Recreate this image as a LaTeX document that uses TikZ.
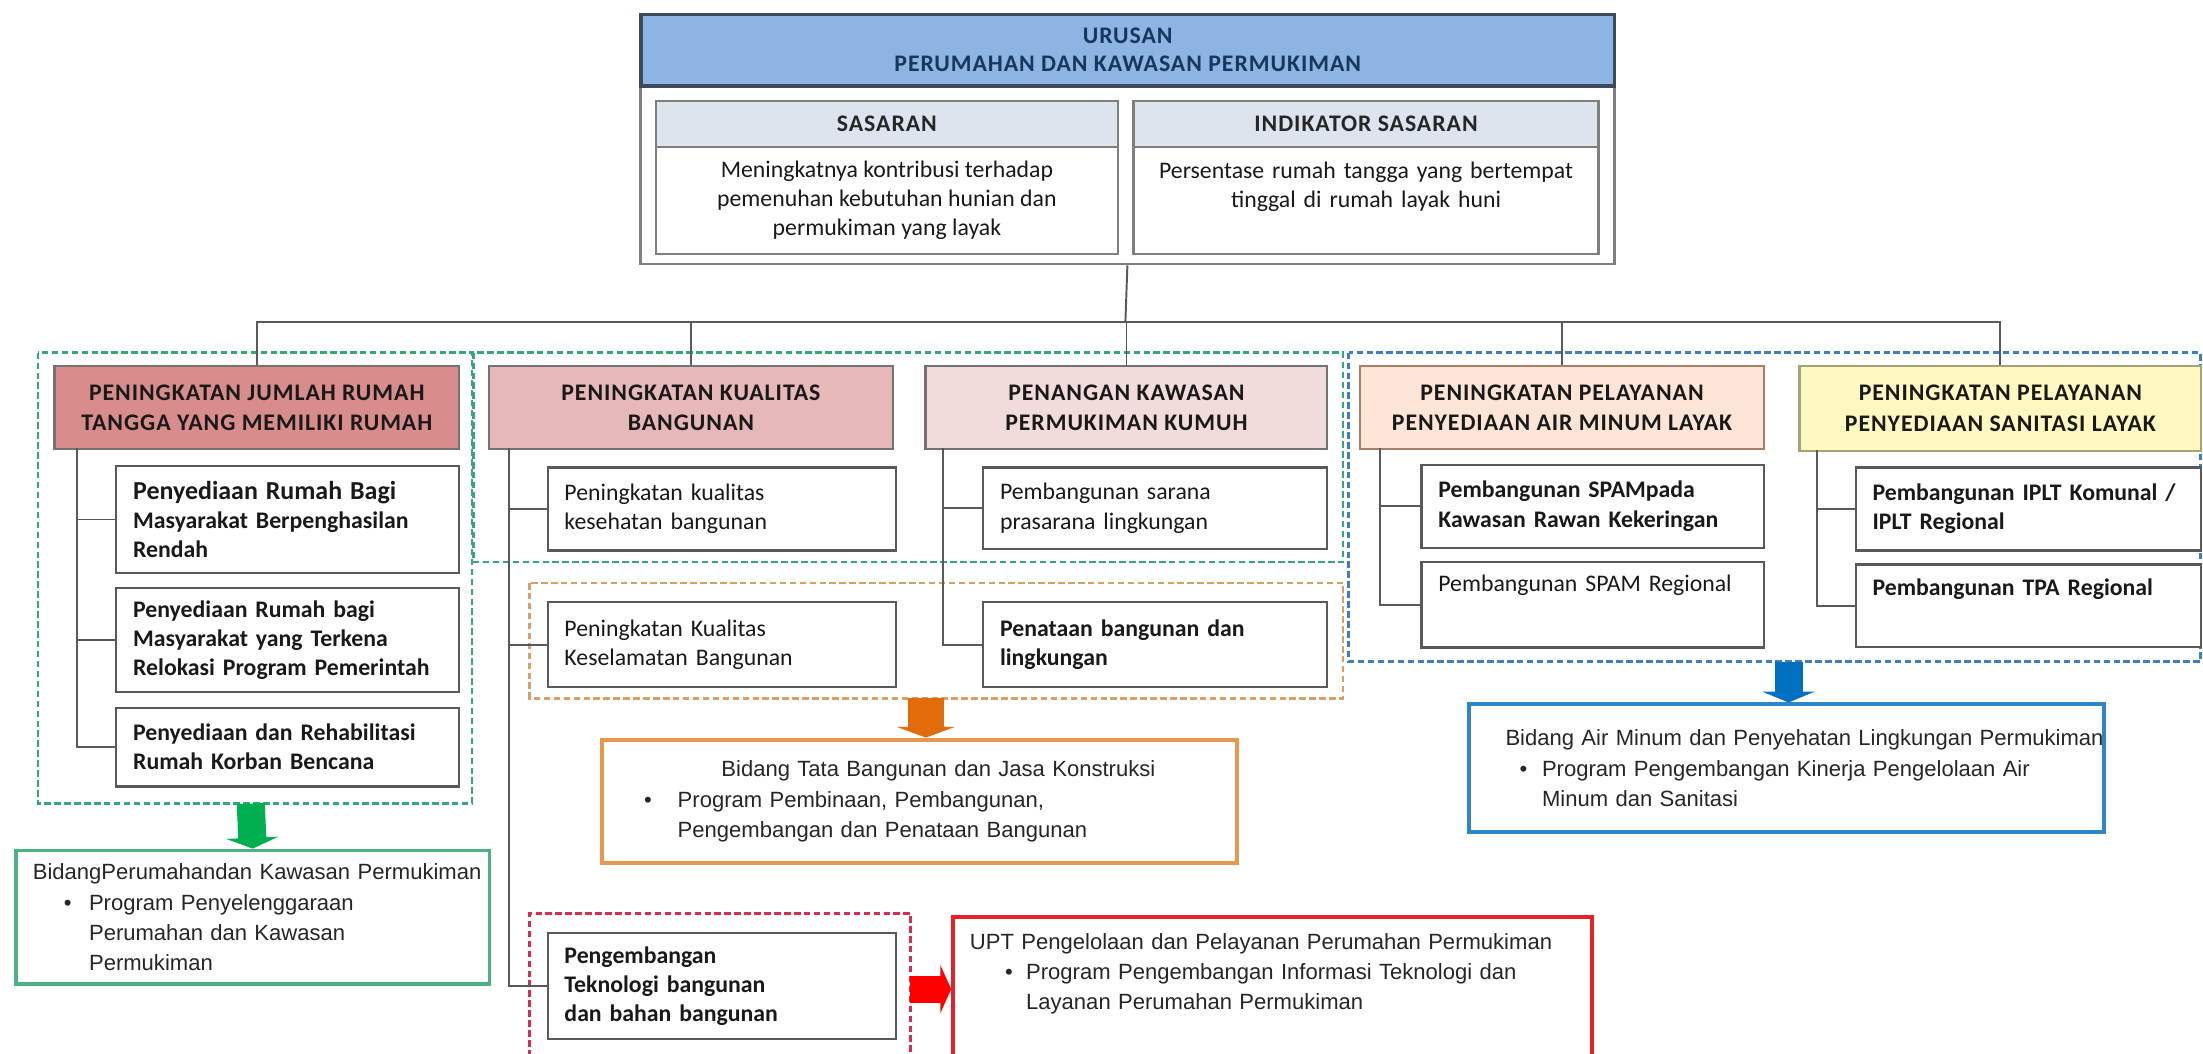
\documentclass[tikz,border=0pt]{standalone}
\usepackage{fontspec}
\setmainfont{Carlito}
\newfontfamily\capsfont[LetterSpace=4]{Carlito}
\newfontfamily\arialfont{Liberation Sans}
\usetikzlibrary{arrows.meta}

\definecolor{hdrblue}{HTML}{8DB4E2}
\definecolor{hdrline}{HTML}{3B4A5C}
\definecolor{navy}{HTML}{17375E}
\definecolor{framegray}{HTML}{7F7F7F}
\definecolor{bandgray}{HTML}{DDE4EE}
\definecolor{boxline}{HTML}{595959}
\definecolor{rosea}{HTML}{D98C8C}
\definecolor{roseb}{HTML}{E6B8B7}
\definecolor{rosec}{HTML}{F2DCDB}
\definecolor{peach}{HTML}{FCE4D6}
\definecolor{peachline}{HTML}{A8806A}
\definecolor{lemon}{HTML}{FFF8C0}
\definecolor{lemonline}{HTML}{A5A37A}
\definecolor{dashgreen}{HTML}{35A877}
\definecolor{dashblue}{HTML}{3F7FBF}
\definecolor{dashorange}{HTML}{D9A066}
\definecolor{dashred}{HTML}{D92C55}
\definecolor{bidgreen}{HTML}{4DB282}
\definecolor{bidorange}{HTML}{E8974E}
\definecolor{bidblue}{HTML}{2F86C6}
\definecolor{bidred}{HTML}{E8202A}
\definecolor{arrgreen}{HTML}{00B050}
\definecolor{arrorange}{HTML}{E36C0A}
\definecolor{arrblue}{HTML}{0070C0}
\definecolor{arrred}{HTML}{FF0000}

\newcommand\bitem[2]{\hspace*{#1}\makebox[#2][l]{\textbullet}}

\begin{document}
\begin{tikzpicture}[x=0.65pt, y=-0.65pt,
    wh/.style 2 args={minimum width=#1*0.65pt, minimum height=#2*0.65pt},
    tw/.code={\pgfmathsetlengthmacro\twidth{(#1)*0.65}\tikzset{text width/.expanded=\twidth}},
    band/.style={draw=framegray, line width=1pt, fill=bandgray, anchor=north west, font=\capsfont\bfseries\fontsize{11}{14}\selectfont, text=black!85},
    judul/.style={draw=black!55, line width=1pt, anchor=north west, align=center, font=\capsfont\bfseries\fontsize{11}{14.3}\selectfont, text=black!90},
    kotak/.style={draw=boxline, line width=1pt, fill=white, anchor=north west, align=left, inner xsep=7.8pt, font=\fontsize{11}{13.5}\selectfont, text=black!90},
    tebal/.style={font=\bfseries\fontsize{11}{13.5}\selectfont},
    bidang/.style={line width=1.8pt, fill=white, anchor=north west, align=left, inner xsep=7.8pt, font=\arialfont\fontsize{10.2}{14}\selectfont, text=black!85},
    cabang/.style={draw=boxline, line width=0.9pt},
    area/.style={line width=1.2pt, dash pattern=on 3pt off 1.6pt}]

    \useasboundingbox (0,0) rectangle (1568,750);

    \draw[area, dashgreen] (27,251) rectangle (336,572);
    \draw[area, dashgreen] (337,251) rectangle (956,400);
    \draw[area, dashblue] (960,251) rectangle (1566,471);
    \draw[area, dashorange] (377,415) rectangle (956,497);
    \draw[area, dashred] (377,752) |- (648,650) -- (648,752);

    \node[draw=framegray, line width=1.2pt, wh={693}{178}, anchor=north west] (urusan) at (455,9) {};
    \node[draw=hdrline, line width=1.5pt, fill=hdrblue, wh={693}{51}, anchor=north west, align=center, font=\capsfont\bfseries\fontsize{11}{13}\selectfont, text=navy] (head) at (455,9) {URUSAN\\PERUMAHAN DAN KAWASAN PERMUKIMAN};
    \node[band, wh={329}{33}] (sasT) at (466,71) {SASARAN};
    \node[kotak, draw=framegray, wh={329}{76}, align=center] (sasB) at (466,104) {Meningkatnya kontribusi terhadap\\pemenuhan kebutuhan hunian dan\\permukiman yang layak};
    \node[band, wh={331}{33}] (indT) at (806,71) {INDIKATOR SASARAN};
    \node[kotak, draw=framegray, wh={331}{76}, tw=307, align=center, text height=8pt, text depth=28.8pt, inner ysep=6.3pt] (indB) at (806,104) {Persentase rumah tangga yang bertempat\\tinggal di rumah layak huni};

    \node[judul, fill=rosea, wh={288}{59}] (pA) at (38,260) {PENINGKATAN JUMLAH RUMAH\\TANGGA YANG MEMILIKI RUMAH};
    \node[judul, fill=roseb, wh={288}{59}] (pB) at (347,260) {PENINGKATAN KUALITAS\\BANGUNAN};
    \node[judul, fill=rosec, wh={286}{59}] (pC) at (658,260) {PENANGAN KAWASAN\\PERMUKIMAN KUMUH};
    \node[judul, fill=peach, draw=peachline, wh={288}{59}] (pD) at (967,260) {PENINGKATAN PELAYANAN\\PENYEDIAAN AIR MINUM LAYAK};
    \node[judul, fill=lemon, draw=lemonline, wh={286}{60}] (pE) at (1280,260) {PENINGKATAN PELAYANAN\\PENYEDIAAN SANITASI LAYAK};

    \coordinate (bus) at (801,229);
    \draw[cabang] (urusan.south) -- (bus);
    \foreach \p in {pA,pB,pC,pD,pE}
        \draw[cabang] (\p.north) |- (bus);

    \node[kotak, tebal, wh={244}{76}, tw=220] (a1) at (82,331) {{\fontsize{12}{14}\selectfont Penyediaan Rumah Bagi}\\Masyarakat Berpenghasilan\\Rendah};
    \node[kotak, tebal, wh={244}{74}, tw=220] (a2) at (82,418) {Penyediaan Rumah bagi\\Masyarakat yang Terkena\\Relokasi Program Pemerintah};
    \node[kotak, tebal, wh={244}{56}, tw=220] (a3) at (82,503) {Penyediaan dan Rehabilitasi\\Rumah Korban Bencana};

    \node[kotak, wh={248}{59}, tw=224] (b1) at (389,332) {Peningkatan kualitas\\kesehatan bangunan};
    \node[kotak, wh={248}{60}, tw=224] (b2) at (389,428) {Peningkatan Kualitas\\Keselamatan Bangunan};
    \node[kotak, tebal, wh={248}{76}, tw=224] (b3) at (389,663) {Pengembangan\\Teknologi bangunan\\dan bahan bangunan};

    \node[kotak, wh={245}{58}, tw=221] (c1) at (699,332) {Pembangunan sarana\\prasarana lingkungan};
    \node[kotak, tebal, wh={245}{60}, tw=221] (c2) at (699,428) {Penataan bangunan dan\\lingkungan};

    \node[kotak, tebal, wh={244}{59}, tw=220] (d1) at (1011,330) {Pembangunan SPAMpada\\Kawasan Rawan Kekeringan};
    \node[kotak, wh={244}{61}, tw=220, text height=8pt, text depth=20.3pt, inner ysep=5.7pt] (d2) at (1011,399) {Pembangunan SPAM Regional};

    \node[kotak, tebal, wh={246}{59}, tw=222] (e1) at (1320,332) {Pembangunan IPLT Komunal /\\IPLT Regional};
    \node[kotak, tebal, wh={246}{59}, tw=222, text height=8pt, text depth=17.7pt, inner ysep=6.3pt] (e2) at (1320,401) {Pembangunan TPA Regional};

    \coordinate (tA) at (55,319);
    \coordinate (tB) at (362,319);
    \coordinate (tC) at (671,319);
    \coordinate (tD) at (982,319);
    \coordinate (tE) at (1293,320);
    \foreach \k in {a1,a2,a3}
        \draw[cabang] (tA) |- (\k.west);
    \foreach \k in {b1,b2,b3}
        \draw[cabang] (tB) |- (\k.west);
    \foreach \k in {c1,c2}
        \draw[cabang] (tC) |- (\k.west);
    \foreach \k in {d1,d2}
        \draw[cabang] (tD) |- (\k.west);
    \foreach \k in {e1,e2}
        \draw[cabang] (tE) |- (\k.west);

    \node[bidang, draw=bidgreen, wh={337}{95}, tw=313] (gBid) at (10,604) {\mbox{BidangPerumahandan Kawasan Permukiman}\\\bitem{14.3pt}{11.7pt}Program Penyelenggaraan\\\hspace*{26pt}Perumahan dan Kawasan\\\hspace*{26pt}Permukiman};
    \node[bidang, draw=bidorange, wh={452}{88}, tw=428] (oBid) at (427,525) {\hspace*{47.5pt}\mbox{Bidang Tata Bangunan dan Jasa Konstruksi}\\\bitem{11.7pt}{15.6pt}\mbox{Program Pembinaan, Pembangunan,}\\\hspace*{27.3pt}\mbox{Pengembangan dan Penataan Bangunan}};
    \node[bidang, draw=bidblue, wh={452}{91}, tw=446, inner xsep=2pt] (bBid) at (1044,500) {\hspace*{15pt}\mbox{Bidang Air Minum dan Penyehatan Lingkungan Permukiman}\\\bitem{21.5pt}{10.4pt}\mbox{Program Pengembangan Kinerja Pengelolaan Air}\\\hspace*{31.9pt}Minum dan Sanitasi};
    \node[bidang, draw=bidred, wh={455}{114}, tw=431, text height=8pt, text depth=52pt, inner ysep=7pt] (rBid) at (677,651) {\mbox{UPT Pengelolaan dan Pelayanan Perumahan Permukiman}\\\bitem{16.3pt}{9.7pt}\mbox{Program Pengembangan Informasi Teknologi dan}\\\hspace*{26pt}Layanan Perumahan Permukiman};

    \coordinate (gA) at (178.5,572);
    \coordinate (oA) at (659,497);
    \coordinate (bA) at (1273,471);
    \coordinate (rA) at (648,704);
    \draw[arrgreen, line width=13pt, -{Triangle[length=5pt,width=24pt]}] (gA) -- (gBid.north);
    \draw[arrorange, line width=17pt, -{Triangle[length=5pt,width=27pt]}] (oA) -- (oA |- oBid.north);
    \draw[arrblue, line width=13pt, -{Triangle[length=5pt,width=24pt]}] (bA) -- (bA |- bBid.north);
    \draw[arrred, line width=12.4pt, -{Triangle[length=5pt,width=22pt]}] (rA) -- (rA -| rBid.west);
\end{tikzpicture}
\end{document}
